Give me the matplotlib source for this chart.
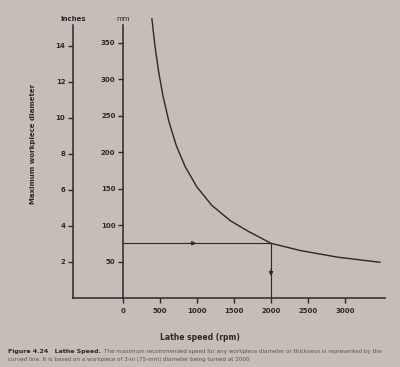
import matplotlib
matplotlib.use("Agg")
import matplotlib.pyplot as plt

# ---- data ----
speed_rpm = [390, 430, 480, 540, 620, 720, 840, 1000, 1200, 1450, 1700,
             2000, 2400, 2900, 3470]
diameter_mm = [383, 347, 311, 277, 242, 209, 180, 152, 127, 106, 91,
               75, 65, 56, 49]
example_speed = 2000
example_diam = 75
x_ticks = [0, 500, 1000, 1500, 2000, 2500, 3000]
mm_ticks = [50, 100, 150, 200, 250, 300, 350]
inch_ticks = [2, 4, 6, 8, 10, 12, 14]
mm_per_inch_drawn = 24.7

bg = "#c6bdb8"
ink = "#2b2826"

W, H = 400, 367
fig = plt.figure(figsize=(W / 100, H / 100), dpi=100, facecolor=bg)

left_px, right_px = 73, 385
bottom_px, top_px = 298, 18
ax = fig.add_axes([left_px / W, (H - bottom_px) / H,
                   (right_px - left_px) / W, (bottom_px - top_px) / H])
ax.set_facecolor("none")
x_min, x_max = -676, 3540
y_max = 384
ax.set_xlim(x_min, x_max)
ax.set_ylim(0, y_max)

for s in ["top", "right"]:
    ax.spines[s].set_visible(False)
ax.spines["left"].set_position(("data", 0))
ax.spines["left"].set_bounds(0, 374)
for s in ["left", "bottom"]:
    ax.spines[s].set_color(ink)
    ax.spines[s].set_linewidth(1.1)

ax.set_xticks(x_ticks)
ax.set_xticklabels([str(v) for v in x_ticks])
ax.set_yticks(mm_ticks)
ax.set_yticklabels([str(v) for v in mm_ticks])
ax.tick_params(axis="both", colors=ink, labelsize=5, length=3.5, width=1.0, pad=2)
for lab in ax.get_xticklabels() + ax.get_yticklabels():
    lab.set_fontweight("bold")
ax.tick_params(axis="x", pad=4)

# curve
ax.plot(speed_rpm, diameter_mm, color=ink, lw=1.0, solid_joinstyle="round")

# example lines with arrows
ax.plot([0, example_speed], [example_diam, example_diam], color=ink, lw=0.8)
ax.plot([example_speed, example_speed], [example_diam, 0], color=ink, lw=0.8)
ax.annotate("", xy=(990, example_diam), xytext=(900, example_diam),
            arrowprops=dict(arrowstyle="-|>", color=ink, lw=0.8,
                            mutation_scale=6, shrinkA=0, shrinkB=0))
ax.annotate("", xy=(example_speed, 30), xytext=(example_speed, 40),
            arrowprops=dict(arrowstyle="-|>", color=ink, lw=0.8,
                            mutation_scale=6, shrinkA=0, shrinkB=0))

ax.text(0, 379, "mm", ha="center", va="bottom", fontsize=5, color=ink)
ax.set_xlabel("Lathe speed (rpm)", fontsize=5.5, fontweight="bold", color=ink)
ax.xaxis.set_label_coords((200 - left_px) / (right_px - left_px), -0.125)

# inches axis
ax2 = fig.add_axes(ax.get_position())
ax2.set_facecolor("none")
ax2.set_ylim(0, y_max / mm_per_inch_drawn)
ax2.set_xlim(0, 1)
for s in ["top", "right", "bottom"]:
    ax2.spines[s].set_visible(False)
ax2.spines["left"].set_bounds(0, 374 / mm_per_inch_drawn)
ax2.spines["left"].set_color(ink)
ax2.spines["left"].set_linewidth(1.1)
ax2.set_xticks([])
ax2.set_yticks(inch_ticks)
ax2.set_yticklabels([str(v) for v in inch_ticks])
ax2.tick_params(axis="y", colors=ink, labelsize=5, length=3.5, width=1.0, pad=2)
for lab in ax2.get_yticklabels():
    lab.set_fontweight("bold")
ax2.text(0, 378 / mm_per_inch_drawn, "Inches", ha="center", va="bottom",
         fontsize=5, color=ink, fontweight="bold")
ax2.set_ylabel("Maximum workpiece diameter", fontsize=5, fontweight="bold",
               color=ink)
ax2.yaxis.set_label_coords(-(73 - 36) / (right_px - left_px), 0.55)

# caption
fig.text(8 / W, 1 - 351 / H, "Figure 4.24   Lathe Speed.", fontsize=4.5,
         fontweight="bold", color=ink, va="center")
fig.text(104 / W, 1 - 351 / H,
         "The maximum recommended speed for any workpiece diameter or thickness is represented by the",
         fontsize=4.1, color="#5a5350", va="center")
fig.text(8 / W, 1 - 360 / H,
         "curved line. It is based on a workpiece of 3-in (75-mm) diameter being turned at 2000",
         fontsize=4.1, color="#5a5350", va="center")

fig.savefig("out.png", dpi=100, facecolor=bg)
